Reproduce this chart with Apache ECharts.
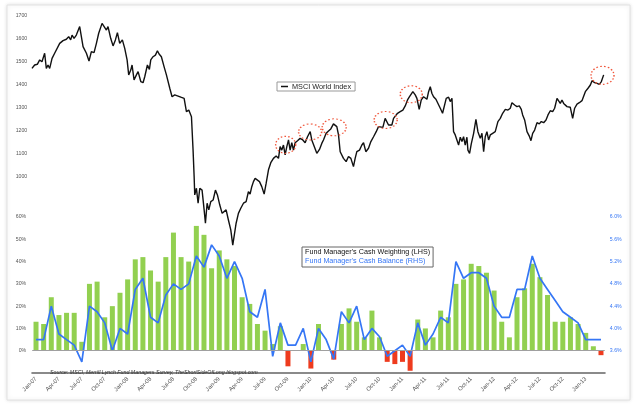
<!DOCTYPE html>
<html>
<head>
<meta charset="utf-8">
<script src="https://cdn.jsdelivr.net/npm/echarts@6/dist/echarts.min.js"></script>
<style>
  html, body { margin: 0; padding: 0; background: #fff; }
  #chart { width: 640px; height: 408px; }
</style>
</head>
<body>
<div id="chart"></div>
<script>
// month categories of the survey panel
const months = [
  'Jan-07','Feb-07','Mar-07','Apr-07','May-07','Jun-07','Jul-07','Aug-07','Sep-07','Oct-07','Nov-07','Dec-07',
  'Jan-08','Feb-08','Mar-08','Apr-08','May-08','Jun-08','Jul-08','Aug-08','Sep-08','Oct-08','Nov-08','Dec-08',
  'Jan-09','Feb-09','Mar-09','Apr-09','May-09','Jun-09','Jul-09','Aug-09','Sep-09','Oct-09','Nov-09','Dec-09',
  'Jan-10','Feb-10','Mar-10','Apr-10','May-10','Jun-10','Jul-10','Aug-10','Sep-10','Oct-10','Nov-10','Dec-10',
  'Jan-11','Feb-11','Mar-11','Apr-11','May-11','Jun-11','Jul-11','Aug-11','Sep-11','Oct-11','Nov-11','Dec-11',
  'Jan-12','Feb-12','Mar-12','Apr-12','May-12','Jun-12','Jul-12','Aug-12','Sep-12','Oct-12','Nov-12','Dec-12',
  'Jan-13','Feb-13','Mar-13'
];

// net % overweight cash (LHS)
const cashWeighting = [
  13, 12, 24, 16, 17, 17, 4, 30, 31, 15, 20, 26,
  32, 41, 42, 36, 31, 42, 53, 42, 40, 56, 52, 37,
  45, 41, 38, 24, 21, 12, 9, 3, 11, -7, 0, 3,
  -8, 12, 0, -4, 12, 19, 13, 6, 18, 6, -5, -6,
  -5, -9, 14, 10, 6, 18, 15, 30, 32, 39, 38, 35,
  27, 13, 6, 24, 28, 39, 33, 25, 13, 13, 15, 12,
  8, 2, -2
];

// average cash balance % (RHS)
const cashBalance = [
  3.8, 3.8, 4.4, 3.9, 3.8, 3.7, 3.4, 4.4, 4.3, 4.1, 3.6, 4.0,
  3.9, 4.7, 4.9, 4.2, 4.1, 4.6, 4.8, 4.7, 4.8, 5.3, 5.1, 5.5,
  5.3, 4.9, 5.2, 4.9, 4.3, 4.2, 4.7, 3.5, 4.1, 3.7, 3.7, 4.0,
  3.4, 4.0, 3.8, 3.45, 4.3, 4.1, 4.4, 3.8, 4.0, 3.85, 3.5, 3.6,
  3.7, 3.5, 4.1, 3.7, 3.9, 4.2, 4.1, 5.2, 4.9, 5.0, 5.0, 4.9,
  4.4, 4.2, 4.2, 4.7, 4.7, 5.3, 4.9, 4.7, 4.5, 4.3, 4.2, 4.1,
  3.8, 3.8, 3.8
];

// MSCI World Index: time in months since Jan-07, and index level
const msciX = [
  -0.53, -0.18, 0.17, 0.48, 0.78, 1.13, 1.35, 1.57, 1.79, 2.10, 2.44, 3.10, 3.54, 3.97, 4.28, 4.54,
  4.72, 4.98, 5.28, 5.72, 5.94, 6.16, 6.60, 6.94, 7.25, 7.60, 7.91, 8.21, 8.65, 8.91, 9.22, 9.43,
  9.78, 10.09, 10.40, 10.66, 10.96, 11.31, 11.62, 11.93, 12.14, 12.41, 12.58, 12.84, 13.15, 13.37, 13.72, 14.02,
  14.24, 14.59, 14.85, 15.03, 15.33, 15.64, 15.90, 16.12, 16.42, 16.77, 17.08, 17.52, 17.82, 18.17, 18.61, 19.05,
  19.40, 19.70, 20.01, 20.36, 20.57, 20.71, 20.79, 21.01, 21.23, 21.45, 21.75, 22.02, 22.19, 22.41, 22.63, 22.89,
  23.20, 23.50, 23.76, 24.07, 24.38, 24.55, 24.90, 25.20, 25.51, 25.77, 25.94, 26.21, 26.51, 26.82, 27.17, 27.52,
  27.82, 28.04, 28.26, 28.48, 28.70, 28.92, 29.27, 29.57, 29.88, 30.14, 30.46, 30.75, 31.10, 31.45, 31.76, 31.97,
  32.19, 32.41, 32.63, 32.85, 33.07, 33.28, 33.50, 33.72, 33.94, 34.25, 34.59, 34.94, 35.25, 35.56, 35.91, 36.12,
  36.34, 36.78, 37.13, 37.43, 37.65, 38.00, 38.31, 38.61, 38.96, 39.18, 39.40, 39.62, 39.84, 40.06, 40.27, 40.62,
  40.93, 41.24, 41.58, 41.80, 42.02, 42.37, 42.68, 42.90, 43.20, 43.55, 43.86, 44.21, 44.56, 44.86, 45.08, 45.43,
  45.73, 45.95, 46.17, 46.39, 46.61, 46.83, 47.05, 47.35, 47.70, 48.05, 48.36, 48.66, 48.92, 49.10, 49.36, 49.67,
  49.89, 50.19, 50.46, 50.76, 50.98, 51.20, 51.42, 51.64, 51.85, 52.07, 52.38, 52.64, 52.95, 53.25, 53.51, 53.73,
  54.04, 54.26, 54.48, 54.69, 54.91, 55.13, 55.35, 55.57, 55.79, 56.00, 56.22, 56.44, 56.57, 56.79, 57.01, 57.32,
  57.62, 57.88, 58.19, 58.41, 58.63, 58.84, 59.06, 59.28, 59.50, 59.81, 60.15, 60.50, 60.81, 61.12, 61.47, 61.82,
  62.12, 62.34, 62.69, 62.99, 63.30, 63.56, 63.74, 64.00, 64.31, 64.61, 64.83, 65.05, 65.31, 65.62, 65.92, 66.18,
  66.49, 66.80, 67.06, 67.36, 67.67, 67.93, 68.24, 68.46, 68.67, 68.89, 69.11, 69.33, 69.55, 69.77, 69.98, 70.29,
  70.55, 70.86, 71.16, 71.51, 71.73, 71.95, 72.30, 72.61, 72.83, 73.17, 73.48, 73.79, 74.05, 74.35
];
const msciY = [
  1472, 1487, 1490, 1509, 1501, 1538, 1472, 1487, 1472, 1516, 1538, 1581, 1593, 1599, 1610, 1596,
  1617, 1603, 1617, 1654, 1646, 1567, 1538, 1504, 1545, 1541, 1581, 1625, 1668, 1661, 1639, 1654,
  1603, 1570, 1596, 1628, 1581, 1596, 1559, 1509, 1444, 1465, 1487, 1422, 1444, 1458, 1415, 1410,
  1436, 1487, 1468, 1509, 1523, 1530, 1549, 1535, 1523, 1480, 1444, 1386, 1349, 1357, 1352, 1346,
  1342, 1284, 1291, 1262, 1118, 1002, 922, 951, 886, 951, 943, 857, 799, 886, 857, 893,
  900, 943, 922, 878, 842, 842, 857, 813, 770, 704, 741, 799, 842, 864, 886, 893,
  936, 926, 958, 980, 994, 1001, 980, 958, 926, 972, 1033, 1062, 1081, 1091, 1081, 1132,
  1117, 1139, 1096, 1132, 1161, 1117, 1149, 1117, 1149, 1158, 1168, 1161, 1149, 1175, 1197, 1161,
  1168, 1103, 1120, 1146, 1161, 1190, 1200, 1209, 1231, 1231, 1219, 1183, 1110, 1117, 1081, 1067,
  1089, 1081, 1045, 1081, 1110, 1117, 1139, 1149, 1110, 1125, 1154, 1175, 1197, 1219, 1222, 1216,
  1255, 1262, 1226, 1219, 1226, 1255, 1262, 1277, 1284, 1291, 1309, 1335, 1349, 1357, 1371, 1357,
  1342, 1294, 1335, 1349, 1357, 1338, 1371, 1393, 1364, 1349, 1338, 1332, 1299, 1277, 1284, 1342,
  1347, 1328, 1342, 1197, 1183, 1161, 1139, 1173, 1154, 1175, 1139, 1173, 1117, 1103, 1144, 1190,
  1251, 1197, 1168, 1190, 1110, 1175, 1197, 1161, 1183, 1190, 1197, 1241, 1255, 1277, 1294, 1291,
  1299, 1323, 1313, 1306, 1309, 1294, 1270, 1248, 1197, 1178, 1158, 1190, 1204, 1236, 1231, 1241,
  1236, 1248, 1270, 1288, 1284, 1299, 1342, 1335, 1320, 1335, 1320, 1323, 1306, 1313, 1303, 1255,
  1299, 1317, 1323, 1332, 1335, 1371, 1386, 1400, 1419, 1410, 1407, 1403, 1415, 1444
];

// circled highs on the index (month, level)
const circledHighs = [[32.7, 1140], [35.9, 1196], [39.06, 1216], [45.8, 1248], [49.15, 1360], [74.2, 1442]];
const circleSizes = [[20, 17], [23, 16], [24, 17], [23, 17], [22, 17], [23, 18]];

const GREEN = '#92d050';
const RED = '#ee3b1e';
const BLUE = '#3576f5';
const FONT = 'Liberation Sans, Arial, sans-serif';

const chart = echarts.init(document.getElementById('chart'), null, { renderer: 'canvas' });

const gridLeft = 32.2, gridRight = 35.2;

const option = {
  animation: false,
  textStyle: { fontFamily: FONT },
  graphic: [{
    type: 'rect',
    z: -1,
    shape: { x: 7, y: 5, width: 623, height: 395 },
    style: { fill: '#fff', stroke: '#e2e2e2', lineWidth: 1, shadowBlur: 4, shadowColor: 'rgba(0,0,0,0.12)' }
  }],
  title: {
    text: 'Source: MSCI, Merrill Lynch Fund Managers Survey, TheShortSideOfLong.blogspot.com',
    left: 45, top: 365,
    textStyle: { fontSize: 5.3, fontStyle: 'italic', fontWeight: 'normal', color: '#333', fontFamily: FONT }
  },
  legend: [{
    data: ['MSCI World Index'],
    left: 277, top: 82,
    orient: 'horizontal',
    padding: [1, 4, 1, 4],
    borderColor: '#999', borderWidth: 1,
    icon: 'rect', itemWidth: 7, itemHeight: 1.5, itemGap: 2,
    textStyle: { fontSize: 7.3, color: '#222', fontFamily: FONT, padding: [0, 0, 0, -1] }
  }, {
    data: [
      { name: "Fund Manager's Cash Weighting (LHS)", textStyle: { color: '#111' } },
      { name: "Fund Manager's Cash Balance (RHS)", textStyle: { color: BLUE } }
    ],
    left: 302, top: 247,
    orient: 'vertical',
    padding: [2, 3, 2, 0],
    borderColor: '#666', borderWidth: 1,
    icon: 'none', itemWidth: 0, itemHeight: 7, itemGap: 2,
    textStyle: { fontSize: 7.2, fontFamily: FONT, padding: [0, 0, 0, -2] }
  }],
  grid: [
    { left: gridLeft, right: gridRight, top: 16, height: 230 },
    { left: gridLeft, right: gridRight, top: 217, height: 156 }
  ],
  xAxis: [{
    // survey months (bottom panel)
    type: 'category',
    gridIndex: 1,
    data: months,
    axisLine: { show: true, onZero: false, lineStyle: { color: '#8a8a8a', width: 2 } },
    axisTick: { show: false },
    axisLabel: { interval: 2, rotate: 45, fontSize: 5.8, color: '#555', margin: 5 },
    splitLine: { show: false }
  }, {
    // index time line (top panel), same month scale
    type: 'value',
    gridIndex: 0,
    min: -0.5, max: 74.5,
    show: false
  }],
  yAxis: [{
    type: 'value',
    gridIndex: 0,
    min: 700, max: 1700, interval: 100,
    axisLine: { show: false }, axisTick: { show: false }, splitLine: { show: false },
    axisLabel: { fontSize: 5.2, color: '#555', margin: 5, formatter: v => v >= 1000 ? String(v) : '' }
  }, {
    type: 'value',
    gridIndex: 1,
    min: -10, max: 60, interval: 10,
    axisLine: { show: false }, axisTick: { show: false }, splitLine: { show: false },
    axisLabel: { fontSize: 5.2, color: '#555', margin: 6, formatter: v => v >= 0 ? v + '%' : '' }
  }, {
    type: 'value',
    gridIndex: 1,
    position: 'right',
    min: 3.2, max: 6.0, interval: 0.4,
    axisLine: { show: false }, axisTick: { show: false }, splitLine: { show: false },
    axisLabel: { fontSize: 5.2, color: BLUE, margin: 5, formatter: v => v >= 3.5 ? v.toFixed(1) + '%' : '' }
  }],
  series: [{
    name: "Fund Manager's Cash Weighting (LHS)",
    type: 'bar',
    xAxisIndex: 0, yAxisIndex: 1,
    barWidth: 5,
    data: cashWeighting,
    itemStyle: { color: p => p.value < 0 ? RED : GREEN },
    markLine: {
      silent: true, symbol: 'none', label: { show: false },
      lineStyle: { color: '#a0a0a0', width: 1, type: 'solid' },
      data: [{ yAxis: 0 }]
    },
    z: 2
  }, {
    name: "Fund Manager's Cash Balance (RHS)",
    type: 'line',
    xAxisIndex: 0, yAxisIndex: 2,
    data: cashBalance,
    showSymbol: false,
    lineStyle: { color: BLUE, width: 1.7 },
    itemStyle: { color: BLUE },
    z: 3
  }, {
    name: 'MSCI World Index',
    type: 'line',
    xAxisIndex: 1, yAxisIndex: 0,
    data: msciX.map((x, i) => [x, msciY[i]]),
    showSymbol: false,
    lineStyle: { color: '#111', width: 1.4 },
    itemStyle: { color: '#111' },
    markPoint: {
      silent: true,
      symbol: 'circle',
      label: { show: false },
      itemStyle: { color: 'rgba(0,0,0,0)', borderColor: '#f0553a', borderWidth: 1.3, borderType: [1.5, 2] },
      data: circledHighs.map((c, i) => ({ coord: c, symbolSize: circleSizes[i] }))
    },
    z: 4
  }]
};

chart.setOption(option);
</script>
</body>
</html>
